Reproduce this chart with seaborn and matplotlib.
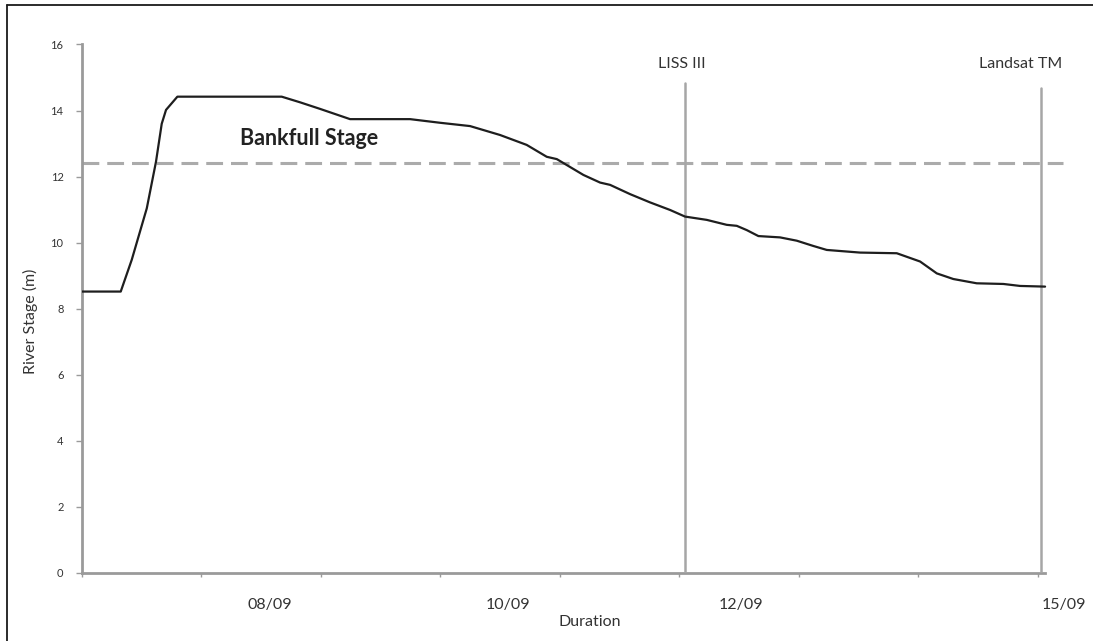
import matplotlib
matplotlib.use("Agg")
import matplotlib.pyplot as plt
from matplotlib.lines import Line2D
import seaborn as sns

# Elapsed time along the axis (one unit per tick interval) and river stage (m)
elapsed = [0.0, 0.328, 0.42, 0.546, 0.623, 0.671, 0.707, 0.802, 1.675, 1.828,
           1.996, 2.247, 2.749, 3.0, 3.251, 3.502, 3.725, 3.893, 3.977, 4.2,
           4.339, 4.423, 4.59, 4.757, 4.925, 5.05, 5.232, 5.399, 5.483, 5.567,
           5.664, 5.845, 5.985, 6.124, 6.236, 6.515, 6.822, 7.017, 7.157,
           7.295, 7.491, 7.714, 7.854, 8.063]
stage = [8.52, 8.52, 9.48, 11.04, 12.45, 13.6, 14.02, 14.42, 14.42, 14.25,
         14.05, 13.74, 13.74, 13.63, 13.53, 13.26, 12.96, 12.6, 12.53, 12.05,
         11.82, 11.75, 11.47, 11.22, 10.99, 10.79, 10.69, 10.54, 10.51, 10.38,
         10.2, 10.16, 10.06, 9.9, 9.78, 9.70, 9.68, 9.43, 9.07, 8.9, 8.77,
         8.75, 8.69, 8.67]

bankfull_stage = 12.4

# Satellite acquisitions: label, position, top of marker line
sensors = ["LISS III", "Landsat TM"]
sensor_pos = [5.05, 8.03]
sensor_top = [14.83, 14.67]

date_labels = ["08/09", "10/09", "12/09", "15/09"]
date_label_pos = [1.577, 3.566, 5.52, 8.22]

sns.set_style("white")
plt.rcParams["font.family"] = ["Lato", "DejaVu Sans"]

fig = plt.figure(figsize=(10.93, 6.41), dpi=100)
# x span runs a little past the axis line so the last date label fits
ax = fig.add_axes([0.0746, 0.1061, 0.9020, 0.8245])

sns.lineplot(x=elapsed, y=stage, ax=ax, color="#1e1e1e", linewidth=1.6,
             sort=False, zorder=4)

# Bankfull stage reference
ax.plot([0, 8.21], [bankfull_stage, bankfull_stage], color="#ababab",
        linewidth=2.2, dashes=(5.5, 2.6), zorder=2)
ax.text(1.326, 12.96, "Bankfull Stage", fontsize=15.5, fontweight="bold",
        color="#222222", ha="left", va="baseline")

# Satellite overpass markers
for name, pos, top in zip(sensors, sensor_pos, sensor_top):
    ax.plot([pos, pos], [0, top], color="#a6a6a6", linewidth=1.8, zorder=3)
ax.text(5.02, 15.28, sensors[0], fontsize=11.5, color="#333333",
        ha="center", va="baseline")
ax.text(8.21, 15.28, sensors[1], fontsize=11.5, color="#333333",
        ha="right", va="baseline")

ax.set_yticks(range(0, 17, 2))
ax.set_xticks(range(0, 9))
ax.set_xticklabels([])
ax.set_xticks(date_label_pos, minor=True)
ax.set_xticklabels(date_labels, minor=True)
ax.set_xlim(0, 8.25)
ax.set_ylim(0, 16)

for side in ("top", "right"):
    ax.spines[side].set_visible(False)
for side in ("left", "bottom"):
    ax.spines[side].set_color("#9a9a9a")
    ax.spines[side].set_linewidth(2)
ax.spines["bottom"].set_bounds(0, 8.06)

ax.tick_params(axis="y", direction="out", length=4, width=1, color="#9a9a9a",
               labelsize=8, labelcolor="#333333", pad=9, left=True)
ax.tick_params(axis="x", which="major", direction="out", length=3, width=1,
               color="#9a9a9a", bottom=True)
ax.tick_params(axis="x", which="minor", length=0, labelsize=11.5,
               labelcolor="#333333", pad=18)

ax.set_ylabel("River Stage (m)", fontsize=11.5, color="#333333")
ax.yaxis.set_label_coords(-43.5 / 985.9, 0.477)
ax.set_xlabel("Duration", fontsize=11.5, color="#333333")
ax.xaxis.set_label_coords((590 - 81.5) / 985.9, -0.079)

# Outer frame along the left and top edges
fig.add_artist(Line2D([7 / 1093, 7 / 1093], [0, 1 - 5 / 641],
                      transform=fig.transFigure, color="#1a1a1a", linewidth=1.3))
fig.add_artist(Line2D([7 / 1093, 1], [1 - 5 / 641, 1 - 5 / 641],
                      transform=fig.transFigure, color="#1a1a1a", linewidth=1.3))

fig.savefig("out.png", dpi=100)
